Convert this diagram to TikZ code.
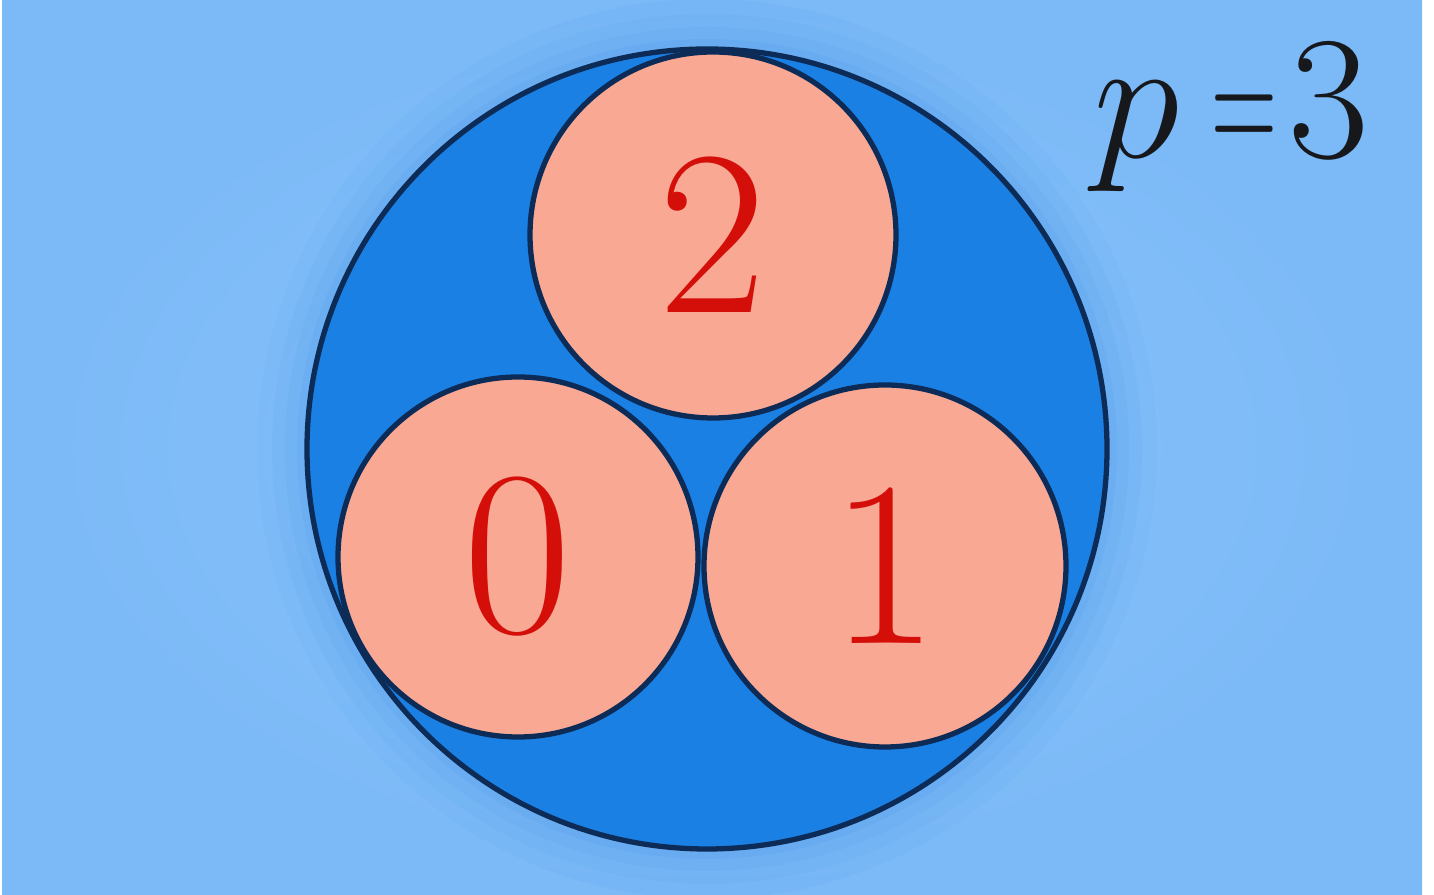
\documentclass[tikz,border=0pt]{standalone}
\usepackage{fix-cm}
\usepackage{graphicx}
\usepackage{tikz}
\usetikzlibrary{calc}
\usepackage{xcolor}
\definecolor{skyblue}{HTML}{8AC5FA}
\definecolor{skyedge}{HTML}{7BB9F7}
\definecolor{halo}{HTML}{3F8FE6}
\definecolor{discblue}{HTML}{1A80E4}
\definecolor{salmon}{HTML}{F9A894}
\definecolor{ink}{HTML}{0D2B57}
\definecolor{digitred}{HTML}{D40F0A}
\definecolor{textblack}{HTML}{16181C}
\tikzset{
  outline/.style={line width=1.5pt, draw=ink},
  disc/.style={outline, circle, fill=discblue, inner sep=0pt, minimum size=8cm},
  ball/.style={outline, circle, fill=salmon, inner sep=0pt, minimum size=3.62cm,
    text=digitred, font=\fontsize{67}{70}\selectfont},
  label/.style={inner sep=0pt, text=textblack, font=\fontsize{50}{55}\selectfont},
}

\begin{document}
\begin{tikzpicture}
  % page and background
  \useasboundingbox (0,0) rectangle (14.34,8.95);
  \fill[white] (0,0) rectangle (14.34,8.95);
  \shade[inner color=skyblue, outer color=skyedge] (0.02,0) rectangle (14.22,8.94);
  % soft halo round the disc
  \foreach \r/\o in {4.5/0.05,4.35/0.07,4.22/0.09,4.1/0.12}{
    \fill[halo, opacity=\o] (7.07,4.46) circle[radius=\r];
  }
  % big disc
  \node[disc] (pool) at (7.07,4.46) {};
  % three balls
  \node[ball, minimum size=3.66cm] (b2) at (7.13,6.60) {2};
  \node[ball, minimum size=3.60cm] (b0) at (5.18,3.38) {0};
  \node[ball] (b1) at (8.85,3.29) {1};
  % p = 3
  \node[label, anchor=base west] (plabel) at (10.93,7.37)
    {$p$\kern0.18em\scalebox{0.52}[1]{$=$}\kern0.06em$3$};
\end{tikzpicture}
\end{document}
